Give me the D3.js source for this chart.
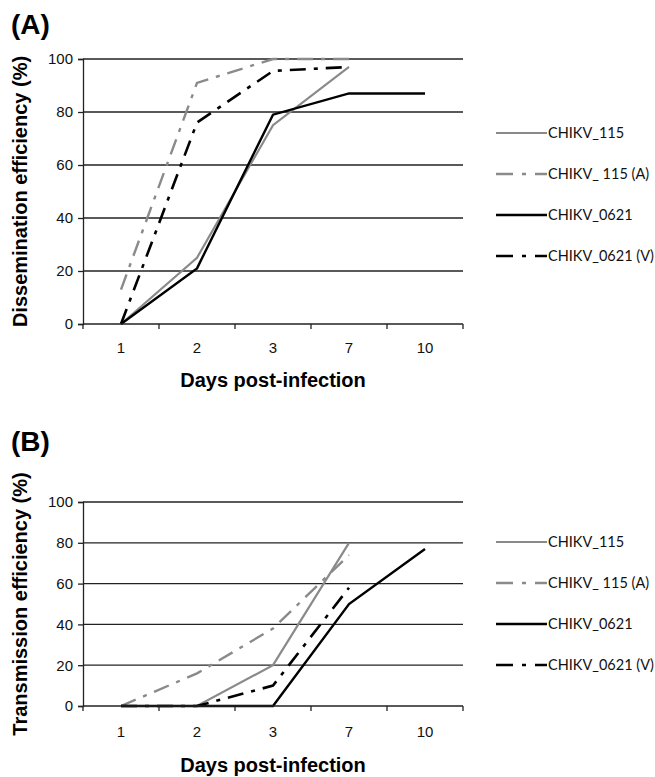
<!DOCTYPE html>
<html>
<head>
<meta charset="utf-8">
<script src="https://cdn.jsdelivr.net/npm/d3@7"></script>
<style>
  body { margin: 0; background: #fff; }
  svg { display: block; }
</style>
</head>
<body>
<div class="chart"></div>
<script>
// data
var days = ["1", "2", "3", "7", "10"];
var seriesNames = ["CHIKV_115", "CHIKV_ 115 (A)", "CHIKV_0621", "CHIKV_0621 (V)"];
var yTicks = [0, 20, 40, 60, 80, 100];

var dissemination115 = [0, 25, 75, 97, null];
var dissemination115A = [13, 91, 100, 100, null];
var dissemination0621 = [0, 21, 79, 87, 87];
var dissemination0621V = [0, 76, 95.5, 97, null];

var transmission115 = [0, 0, 20, 80, null];
var transmission115A = [0, 16, 38, 74, null];
var transmission0621 = [0, 0, 0, 50, 77];
var transmission0621V = [0, 0, 10, 58, null];

// line styles per series
var styles = [
    { color: "#8a8a8a", dash: null, width: 2.2 },
    { color: "#8a8a8a", dash: "16,8,4,8", width: 2.4 },
    { color: "#000000", dash: null, width: 2.4 },
    { color: "#000000", dash: "16,8,4,8", width: 2.6 }
];

var width = 655, height = 777;

var svg = d3.select(".chart").append("svg")
    .attr("width", width)
    .attr("height", height);

function drawPanel(opt) {
    var x = d3.scaleBand().domain(days).range([83, 463]).padding(0);
    var y = d3.scaleLinear().domain([0, 100]).range([opt.bottom, opt.top]);

    var g = svg.append("g");

    // panel label
    g.append("text")
        .attr("x", 11)
        .attr("y", opt.labelY)
        .attr("font-family", "Liberation Sans, Arial, sans-serif")
        .attr("font-weight", "bold")
        .attr("font-size", 28)
        .text(opt.label);

    // gridlines
    g.selectAll(".grid")
        .data(yTicks.filter(function (d) { return d > 0; }))
        .enter().append("line")
        .attr("x1", 83).attr("x2", 463)
        .attr("y1", function (d) { return y(d); })
        .attr("y2", function (d) { return y(d); })
        .attr("stroke", "#222")
        .attr("stroke-width", 1.3);

    // y axis
    var yAxis = d3.axisLeft(y).tickValues(yTicks).tickSize(5).tickPadding(5);
    var ya = g.append("g")
        .attr("transform", "translate(83,0)")
        .call(yAxis);
    ya.select(".domain").attr("stroke", "#222").attr("stroke-width", 1.3);
    ya.selectAll(".tick line").attr("stroke", "#222").attr("stroke-width", 1.3);
    ya.selectAll("text")
        .attr("font-family", "Liberation Sans, Arial, sans-serif")
        .attr("font-size", 15)
        .attr("fill", "#111");

    // series lines
    var line = d3.line()
        .defined(function (d) { return d != null; })
        .x(function (d, i) { return x(days[i]) + x.bandwidth() / 2; })
        .y(function (d) { return y(d); });

    opt.series.forEach(function (vals, i) {
        var s = styles[i];
        g.append("path")
            .datum(vals)
            .attr("fill", "none")
            .attr("stroke", s.color)
            .attr("stroke-width", s.width)
            .attr("stroke-dasharray", s.dash)
            .attr("d", line);
    });

    // x axis (ticks on band edges)
    var xa = g.append("g")
        .attr("transform", "translate(0," + opt.bottom + ")");
    xa.append("line")
        .attr("x1", 83).attr("x2", 463)
        .attr("stroke", "#222").attr("stroke-width", 1.3);
    var edges = days.map(function (d) { return x(d); }).concat([463]);
    xa.selectAll(".edge")
        .data(edges)
        .enter().append("line")
        .attr("x1", function (d) { return d; })
        .attr("x2", function (d) { return d; })
        .attr("y1", 0).attr("y2", 5)
        .attr("stroke", "#222").attr("stroke-width", 1.3);
    xa.selectAll(".lab")
        .data(days)
        .enter().append("text")
        .attr("x", function (d) { return x(d) + x.bandwidth() / 2; })
        .attr("y", opt.tickLabelDy)
        .attr("text-anchor", "middle")
        .attr("font-family", "Liberation Sans, Arial, sans-serif")
        .attr("font-size", 15)
        .attr("fill", "#111")
        .text(function (d) { return d; });

    // axis titles
    g.append("text")
        .attr("x", 273)
        .attr("y", opt.xTitleY)
        .attr("text-anchor", "middle")
        .attr("font-family", "Liberation Sans, Arial, sans-serif")
        .attr("font-weight", "bold")
        .attr("font-size", 20)
        .text("Days post-infection");

    g.append("text")
        .attr("transform", "translate(27," + ((opt.top + opt.bottom) / 2) + ") rotate(-90)")
        .attr("text-anchor", "middle")
        .attr("font-family", "Liberation Sans, Arial, sans-serif")
        .attr("font-weight", "bold")
        .attr("font-size", 20)
        .text(opt.yTitle);

    // legend
    var leg = g.selectAll(".leg")
        .data(seriesNames)
        .enter().append("g")
        .attr("transform", function (d, i) { return "translate(496," + (opt.legendTop + i * 41) + ")"; });
    leg.append("line")
        .attr("x1", 0).attr("x2", 51)
        .attr("stroke", function (d, i) { return styles[i].color; })
        .attr("stroke-width", function (d, i) { return styles[i].width; })
        .attr("stroke-dasharray", function (d, i) { return styles[i].dash ? "17,9,4,9" : null; });
    leg.append("text")
        .attr("x", 52)
        .attr("y", 5)
        .attr("font-family", "Lato, 'Open Sans', sans-serif")
        .attr("font-size", 14.5)
        .attr("fill", "#111")
        .text(function (d) { return d; });
}

drawPanel({
    label: "(A)", labelY: 34,
    top: 59, bottom: 324,
    yTitle: "Dissemination efficiency (%)",
    series: [dissemination115, dissemination115A, dissemination0621, dissemination0621V],
    tickLabelDy: 29, xTitleY: 387,
    legendTop: 133
});

drawPanel({
    label: "(B)", labelY: 451,
    top: 502, bottom: 706,
    yTitle: "Transmission efficiency (%)",
    series: [transmission115, transmission115A, transmission0621, transmission0621V],
    tickLabelDy: 31, xTitleY: 772,
    legendTop: 542
});
</script>
</body>
</html>
